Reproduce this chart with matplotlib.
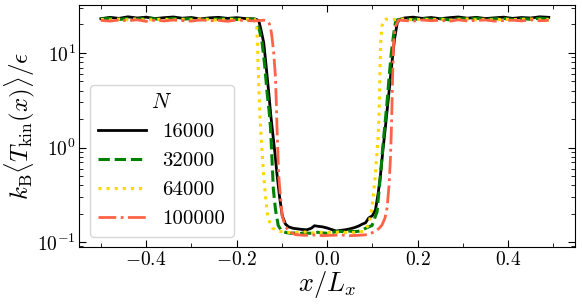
import matplotlib
matplotlib.use("Agg")
import matplotlib.pyplot as plt
from matplotlib.ticker import MultipleLocator

plt.rcParams['font.family'] = 'serif'
plt.rcParams['font.serif'] = ['cmr10']
plt.rcParams['mathtext.fontset'] = 'cm'
plt.rcParams['axes.formatter.use_mathtext'] = True

# N = 16000
x_16000 = [-0.50, -0.48, -0.46, -0.44, -0.42, -0.40, -0.38, -0.36, -0.34, -0.32, -0.30, -0.28,
           -0.26, -0.24, -0.22, -0.20, -0.18, -0.16,
           -0.151, -0.146, -0.140, -0.135, -0.129, -0.124, -0.120, -0.115, -0.1105, -0.105,
           -0.099, -0.092, -0.085, -0.075, -0.065, -0.055, -0.045, -0.035, -0.028, -0.020,
           -0.010, 0.0, 0.010, 0.020, 0.030, 0.040, 0.050, 0.060, 0.070, 0.078,
           0.085, 0.092, 0.100, 0.107, 0.113, 0.118, 0.123, 0.128, 0.132, 0.136, 0.140,
           0.144, 0.149, 0.155, 0.160,
           0.17, 0.19, 0.21, 0.23, 0.25, 0.27, 0.29, 0.31, 0.33, 0.35, 0.37, 0.39, 0.41,
           0.43, 0.45, 0.47, 0.49]
y_16000 = [23.0, 23.8, 23.2, 24.1, 23.4, 23.9, 23.1, 23.6, 24.0, 23.3, 23.7, 22.9,
           23.5, 23.8, 23.2, 23.6, 23.1, 22.9,
           22.0, 17.5, 12.8, 7.5, 3.8, 2.1, 1.4, 0.85, 0.51, 0.30,
           0.19, 0.155, 0.145, 0.140, 0.138, 0.136, 0.135, 0.140, 0.149, 0.147,
           0.145, 0.141, 0.136, 0.131, 0.133, 0.135, 0.138, 0.142, 0.148, 0.155,
           0.160, 0.180, 0.190, 0.220, 0.330, 0.51, 0.90, 1.5, 2.3, 3.5, 5.5,
           8.4, 14.0, 20.7, 22.5,
           23.4, 23.9, 23.2, 23.7, 23.0, 23.6, 24.0, 23.3, 23.8, 23.1, 23.5, 23.9, 23.2,
           23.7, 23.4, 24.1, 23.8]

# N = 32000
x_32000 = [-0.50, -0.48, -0.46, -0.44, -0.42, -0.40, -0.38, -0.36, -0.34, -0.32, -0.30, -0.28,
           -0.26, -0.24, -0.22, -0.20, -0.18, -0.16,
           -0.155, -0.149, -0.1436, -0.138, -0.1326, -0.128, -0.125, -0.122, -0.1187, -0.114,
           -0.108, -0.100, -0.090, -0.080, -0.070, -0.060, -0.050, -0.040, -0.030, -0.020,
           -0.010, 0.0, 0.010, 0.020, 0.030, 0.040, 0.050, 0.060, 0.068,
           0.074, 0.085, 0.0994, 0.1105, 0.118, 0.123, 0.127, 0.132, 0.137, 0.142, 0.147,
           0.151, 0.156,
           0.17, 0.19, 0.21, 0.23, 0.25, 0.27, 0.29, 0.31, 0.33, 0.35, 0.37, 0.39, 0.41,
           0.43, 0.45, 0.47, 0.49]
y_32000 = [22.8, 23.3, 22.6, 23.1, 22.7, 23.4, 22.9, 22.5, 23.2, 22.8, 23.0, 22.4,
           23.1, 22.7, 23.3, 22.6, 22.9, 22.7,
           21.0, 17.0, 12.8, 7.5, 3.8, 2.4, 1.6, 0.8, 0.36, 0.22,
           0.15, 0.13, 0.126, 0.124, 0.125, 0.123, 0.126, 0.124, 0.125, 0.127,
           0.125, 0.124, 0.126, 0.129, 0.130, 0.128, 0.131, 0.129, 0.130,
           0.132, 0.140, 0.150, 0.210, 0.51, 1.0, 1.6, 2.8, 5.5, 10.0, 15.5,
           21.0, 22.5,
           22.9, 22.5, 23.2, 22.7, 23.0, 22.4, 23.1, 22.8, 23.3, 22.6, 22.9, 23.2, 22.5,
           23.0, 22.7, 23.3, 22.8]

# N = 64000
x_64000 = [-0.50, -0.48, -0.46, -0.44, -0.42, -0.40, -0.38, -0.36, -0.34, -0.32, -0.30, -0.28,
           -0.26, -0.24, -0.22, -0.20, -0.18, -0.16,
           -0.156, -0.1545, -0.153, -0.151, -0.149, -0.147, -0.144, -0.140, -0.136, -0.132,
           -0.1274, -0.120, -0.107, -0.090, -0.070, -0.050, -0.030, -0.010, 0.010, 0.030,
           0.050, 0.070, 0.080, 0.092, 0.0994, 0.1067, 0.111, 0.1125, 0.1145, 0.116, 0.117,
           0.1185, 0.121, 0.125,
           0.13, 0.15, 0.17, 0.19, 0.21, 0.23, 0.25, 0.27, 0.29, 0.31, 0.33, 0.35, 0.37,
           0.39, 0.41, 0.43, 0.45, 0.47, 0.49]
y_64000 = [22.6, 22.3, 22.8, 22.4, 22.9, 22.2, 22.6, 22.8, 22.3, 22.7, 22.4, 22.9,
           22.5, 22.2, 22.7, 22.4, 22.8, 22.6,
           21.0, 15.0, 9.0, 4.5, 2.5, 1.6, 0.95, 0.50, 0.30, 0.20,
           0.165, 0.140, 0.130, 0.127, 0.126, 0.128, 0.125, 0.127, 0.126, 0.128,
           0.126, 0.127, 0.130, 0.152, 0.23, 0.51, 1.0, 1.2, 2.0, 4.0, 7.0,
           12.8, 19.0, 22.0,
           22.8, 22.5, 22.9, 22.3, 22.7, 22.4, 22.8, 22.2, 22.6, 22.9, 22.4, 22.7, 22.3,
           22.8, 22.5, 22.6, 22.9, 22.4, 22.7]

# N = 100000
x_100000 = [-0.50, -0.48, -0.46, -0.44, -0.42, -0.40, -0.38, -0.36, -0.34, -0.32, -0.30, -0.28,
            -0.26, -0.24, -0.22, -0.20, -0.18, -0.16, -0.14,
            -0.133, -0.128, -0.1253, -0.122, -0.118, -0.1142, -0.112, -0.1105, -0.107, -0.103,
            -0.0994, -0.093, -0.085, -0.070, -0.050, -0.030, -0.010, 0.010, 0.030, 0.050,
            0.070, 0.090, 0.1067, 0.115, 0.1215, 0.128, 0.1326, 0.137, 0.140, 0.142, 0.1436,
            0.145, 0.147, 0.151, 0.158,
            0.17, 0.19, 0.21, 0.23, 0.25, 0.27, 0.29, 0.31, 0.33, 0.35, 0.37, 0.39, 0.41,
            0.43, 0.45, 0.47, 0.49]
y_100000 = [22.1, 21.7, 22.3, 21.9, 22.4, 21.6, 22.2, 21.8, 22.3, 22.0, 21.7, 22.4,
            21.9, 22.1, 21.6, 22.3, 22.0, 21.8, 22.2,
            21.8, 20.5, 19.0, 15.0, 10.0, 5.6, 2.8, 1.5, 0.51, 0.30,
            0.19, 0.150, 0.130, 0.120, 0.118, 0.119, 0.117, 0.118, 0.119, 0.117,
            0.118, 0.120, 0.130, 0.140, 0.152, 0.180, 0.23, 0.40, 0.77, 1.5, 3.0,
            6.0, 12.8, 19.0, 22.3,
            22.0, 21.7, 22.3, 21.9, 22.2, 21.6, 22.4, 21.8, 22.1, 22.3, 21.7, 22.0, 22.2,
            21.8, 22.4, 21.9, 22.1]

fig, ax = plt.subplots(figsize=(5.82, 3.07), dpi=100)
fig.subplots_adjust(left=0.136, right=0.988, bottom=0.195, top=0.984)

ax.plot(x_16000, y_16000, color='black', linestyle='-', linewidth=2, label='16000')
ax.plot(x_32000, y_32000, color='green', linestyle='--', linewidth=2.2, label='32000')
ax.plot(x_64000, y_64000, color='gold', linestyle=':', linewidth=2.2, label='64000')
ax.plot(x_100000, y_100000, color='tomato', linestyle='-.', linewidth=2, label='100000')

ax.set_yscale('log')
ax.set_xlim(-0.548, 0.548)
ax.set_ylim(0.0885, 32.2)
ax.xaxis.set_major_locator(MultipleLocator(0.2))
ax.xaxis.set_minor_locator(MultipleLocator(0.1))
ax.tick_params(which='both', direction='in', top=True, right=True, labelsize=14, pad=2.5)
ax.tick_params(which='major', length=5)
ax.tick_params(which='minor', length=3)

ax.set_xlabel(r'$x/L_x$', fontsize=19, labelpad=0)
ax.set_ylabel(r'$k_{\rm B}\langle T_{\rm kin}(x)\rangle/\epsilon$', fontsize=18, labelpad=0)

ax.legend(title=r'$N$', loc='lower left', fontsize=15, title_fontsize=15.5,
          handlelength=2.3)

fig.savefig('out.png', dpi=100)
